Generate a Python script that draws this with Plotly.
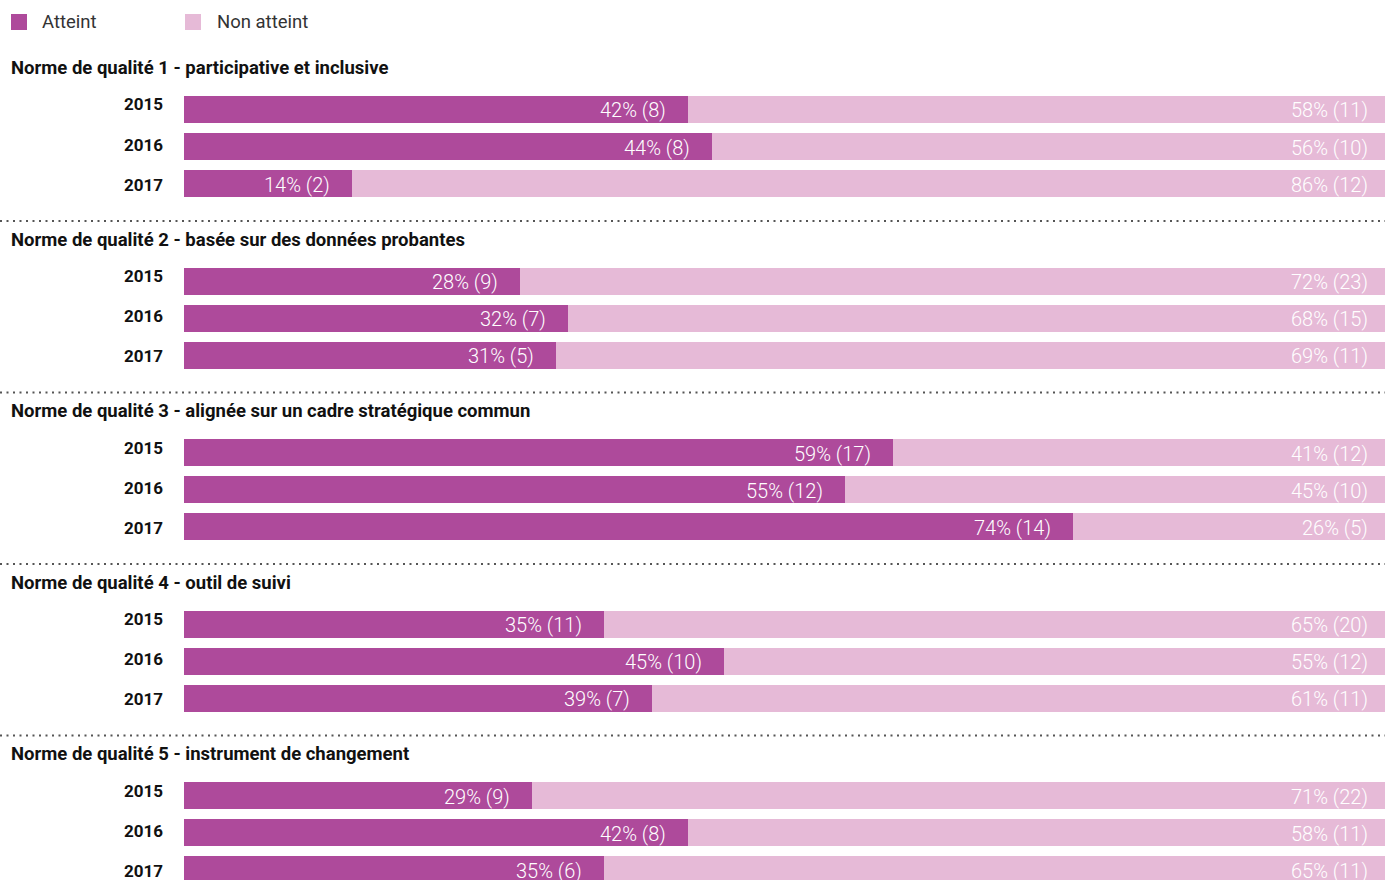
import plotly.graph_objects as go

W, H = 1385, 880

# ---- data -------------------------------------------------------------
groups = [
    "Norme de qualité 1 - participative et inclusive",
    "Norme de qualité 2 - basée sur des données probantes",
    "Norme de qualité 3 - alignée sur un cadre stratégique commun",
    "Norme de qualité 4 - outil de suivi",
    "Norme de qualité 5 - instrument de changement",
]
years = ["2015", "2016", "2017"]
met_pct = [[42, 44, 14], [28, 32, 31], [59, 55, 74], [35, 45, 39], [29, 42, 35]]
met_n = [[8, 8, 2], [9, 7, 5], [17, 12, 14], [11, 10, 7], [9, 8, 6]]
unmet_pct = [[58, 56, 86], [72, 68, 69], [41, 45, 26], [65, 55, 61], [71, 58, 65]]
unmet_n = [[11, 10, 12], [23, 15, 11], [12, 10, 5], [20, 12, 11], [22, 11, 11]]
series_names = ["Atteint", "Non atteint"]

# ---- styling ----------------------------------------------------------
C_MET = "#AE4A9B"
C_UNMET = "#E6BAD7"
FONT = "Roboto"
X0_PX = 184            # left edge of bars
GROUP_STEP = 171.5     # vertical distance between groups
FIRST_BAR_TOP = 96
PITCH = 37             # distance between bars in a group
BAR_H = 27


def py(px):
    """pixel row -> paper y"""
    return 1 - px / H


fig = go.Figure()
annotations = []
shapes = []

for g, title in enumerate(groups):
    yname = "y" if g == 0 else f"y{g + 1}"
    axname = "yaxis" if g == 0 else f"yaxis{g + 1}"
    top = FIRST_BAR_TOP - (PITCH - BAR_H) / 2 + GROUP_STEP * g
    bottom = top + 3 * PITCH
    lo = 2.5
    if bottom > H:
        lo = 2.5 - (bottom - H) / PITCH
        bottom = H
    fig.update_layout({axname: dict(
        domain=[py(bottom), py(top)], anchor="x",
        type="category", categoryorder="array", categoryarray=years,
        range=[lo, -0.5], visible=False, fixedrange=True,
    )})

    fig.add_trace(go.Bar(
        y=years, x=met_pct[g], orientation="h", name=series_names[0],
        marker=dict(color=C_MET, line=dict(width=0)),
        xaxis="x", yaxis=yname, showlegend=False, hoverinfo="skip",
    ))
    fig.add_trace(go.Bar(
        y=years, x=unmet_pct[g], orientation="h", name=series_names[1],
        marker=dict(color=C_UNMET, line=dict(width=0)),
        xaxis="x", yaxis=yname, showlegend=False, hoverinfo="skip",
    ))

    # value labels at the end of each segment (y given as category index)
    for i, yr in enumerate(years):
        annotations.append(dict(
            x=met_pct[g][i], y=i, xref="x", yref=yname,
            text=f"{met_pct[g][i]}% ({met_n[g][i]})",
            xanchor="right", yanchor="middle", showarrow=False,
            xshift=-20, yshift=-1,
            font=dict(family=FONT, size=20, color="white", weight=300),
        ))
        annotations.append(dict(
            x=met_pct[g][i] + unmet_pct[g][i], y=i, xref="x", yref=yname,
            text=f"{unmet_pct[g][i]}% ({unmet_n[g][i]})",
            xanchor="right", yanchor="middle", showarrow=False,
            xshift=-15, yshift=-1,
            font=dict(family=FONT, size=20, color="white", weight=300),
        ))
        # year label
        annotations.append(dict(
            x=165 / W, y=i, xref="paper", yref=yname, text=yr,
            xanchor="right", yanchor="middle", showarrow=False,
            yshift=[5, 2, -1][i],
            font=dict(family=FONT, size=17, color="#111", weight=700),
        ))

    # group title
    annotations.append(dict(
        x=9 / W, y=py(68 + GROUP_STEP * g), xref="paper", yref="paper",
        text=title, xanchor="left", yanchor="middle", showarrow=False,
        font=dict(family=FONT, size=18.5, color="#111", weight=700),
    ))

    # dotted separator below each group except the last
    if g < len(groups) - 1:
        ys = py(221 + GROUP_STEP * g)
        shapes.append(dict(
            type="line", xref="paper", yref="paper", x0=0, x1=1, y0=ys, y1=ys,
            line=dict(color="#555", width=2, dash="2px,4.5px"),
        ))

# legend drawn as swatches + labels
for k, (name, col, sx, tx) in enumerate([
    (series_names[0], C_MET, 11, 40),
    (series_names[1], C_UNMET, 185, 215),
]):
    shapes.append(dict(
        type="rect", xref="paper", yref="paper",
        x0=sx / W, x1=(sx + 16) / W, y0=py(30), y1=py(14),
        fillcolor=col, line=dict(width=0),
    ))
    annotations.append(dict(
        x=tx / W, y=py(22), xref="paper", yref="paper", text=name,
        xanchor="left", yanchor="middle", showarrow=False,
        font=dict(family=FONT, size=18.5, color="#333"),
    ))

fig.update_layout(
    width=W, height=H,
    margin=dict(l=0, r=0, t=0, b=0),
    paper_bgcolor="white", plot_bgcolor="white",
    barmode="stack", bargap=1 - BAR_H / PITCH,
    xaxis=dict(domain=[X0_PX / W, 1], range=[0, 100], visible=False,
               fixedrange=True),
    annotations=annotations, shapes=shapes,
    showlegend=False,
    font=dict(family=FONT),
)

fig.write_html("out.html", config={"displayModeBar": False})
